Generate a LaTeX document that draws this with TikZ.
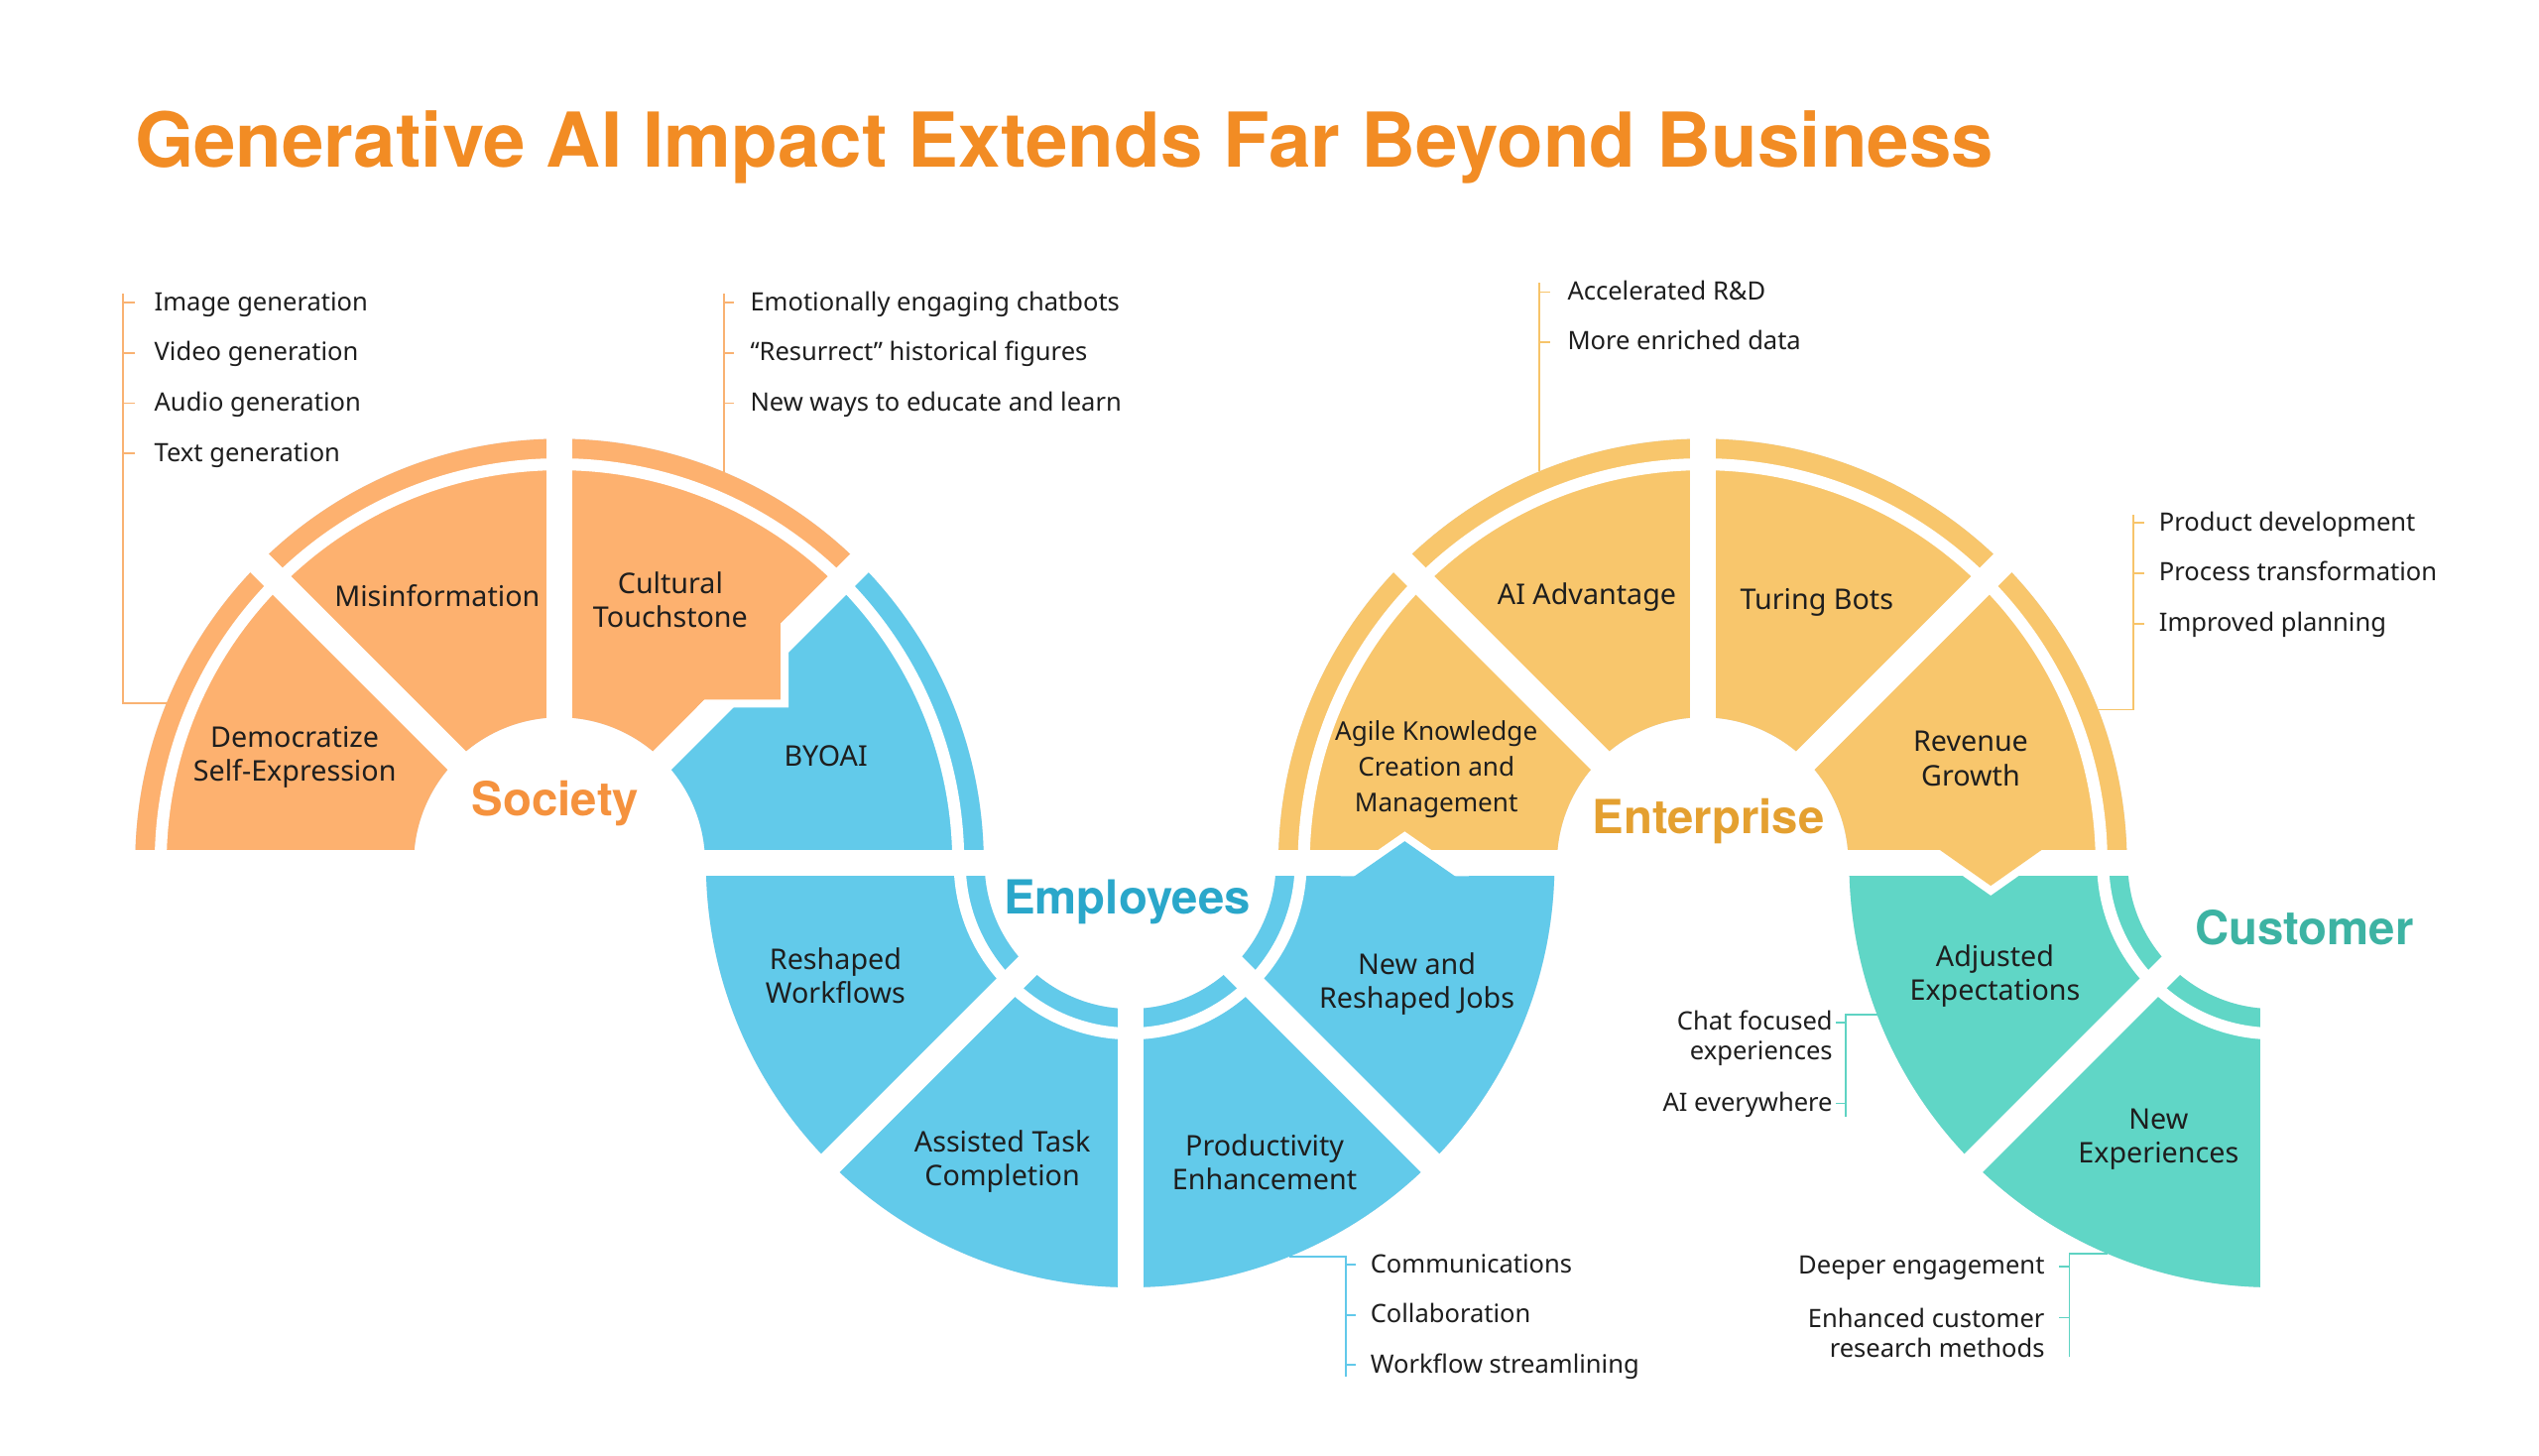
\documentclass[tikz,border=0pt]{standalone}
\usepackage{fontspec}
\setmainfont{Noto Sans}
\newfontfamily\headfont{TeX Gyre Heros}
\usepackage{xcolor}
\usepackage{tikz}
\usetikzlibrary{calc}

\definecolor{titlecol}{HTML}{F28C24}
\definecolor{socfill}{HTML}{FDB16F}
\definecolor{soctext}{HTML}{F5923E}
\definecolor{socline}{HTML}{F9B272}
\definecolor{empfill}{HTML}{62CAEA}
\definecolor{emptext}{HTML}{2AA7CA}
\definecolor{empline}{HTML}{62C9EA}
\definecolor{entfill}{HTML}{F8C66C}
\definecolor{enttext}{HTML}{E4A030}
\definecolor{entline}{HTML}{F7C46A}
\definecolor{cusfill}{HTML}{60D6C6}
\definecolor{custext}{HTML}{3DB3A3}
\definecolor{cusline}{HTML}{5FD3C3}
\definecolor{ink}{HTML}{1E1E1E}
\definecolor{ringshadow}{HTML}{DADFEA}

\newcommand{\ringpart}[6]{%
  \fill[#1] ($(#2)+(#3:#5)$) arc[start angle=#3,end angle=#4,radius=#5]
    -- ($(#2)+(#4:#6)$) arc[start angle=#4,end angle=#3,radius=#6] -- cycle;}

\tikzset{
  gapline/.style={white,line width=0.32cm},
  bandgap/.style={white,line width=0.148cm},
  seclabel/.style={font=\fontsize{10}{11.9}\selectfont,text=ink,align=center,inner sep=0pt},
  ringlabel/.style={font=\headfont\bfseries\fontsize{16.5}{19}\selectfont,inner sep=0pt},
  item/.style={font=\fontsize{8.9}{10.5}\selectfont,text=ink,inner sep=0pt,text height=7pt,text depth=1.5pt},
  item2/.style={font=\fontsize{8.9}{10.5}\selectfont,text=ink,inner sep=0pt,align=right},
  bracketline/.style={line width=0.65pt},
}

\begin{document}
\begin{tikzpicture}[x=0.02cm,y=-0.02cm]
  \useasboundingbox (0,0) rectangle (1568,899);
  \fill[white] (0,0) rectangle (1568,899);

  \node[anchor=west,inner sep=0pt,text=titlecol,font=\headfont\bfseries\fontsize{26.6}{30}\selectfont] (title) at (83,91) {Generative AI Impact Extends Far Beyond Business};

  \coordinate (soc) at (345.5,533);
  \coordinate (emp) at (698,533);
  \coordinate (ent) at (1051.5,533);
  \coordinate (cus) at (1404,533);

  \foreach \c/\a/\b in {soc/180/360,emp/0/180,ent/180/360,cus/90/180}
    \ringpart{ringshadow,shift={(2,4)}}{\c}{\a}{\b}{90}{262};

  \foreach \a/\b/\f in {180/225/socfill,225/270/socfill,270/315/socfill,315/360/empfill}
    \ringpart{\f}{soc}{\a}{\b}{90}{262};
  \ringpart{empfill}{emp}{0}{180}{90}{262};
  \ringpart{entfill}{ent}{180}{360}{90}{262};
  \ringpart{cusfill}{cus}{90}{180}{90}{262};

  \foreach \c/\a in {soc/225,soc/270,soc/315,emp/45,emp/90,emp/135,ent/225,ent/270,ent/315,cus/90,cus/135}
    \draw[gapline] ($(\c)+(\a:80)$) -- ($(\c)+(\a:275)$);
  \foreach \c/\a/\b/\r in {soc/180/360/246.3,ent/180/360/246.3,emp/0/180/105.3,cus/90/180/105.3}
    \draw[bandgap] ($(\c)+(\a:\r)$) arc[start angle=\a,end angle=\b,radius=\r];
  \draw[gapline] (70,533) -- (1425,533);

  \fill[white] (430.2,437) -- (487,437) -- (487,380.2) -- cycle;
  \fill[socfill] (432,432) -- (482,432) -- (482,382) -- cycle;
  \fill[white] (827.9,541) -- (867.5,513.5) -- (907.1,541) -- cycle;
  \fill[empfill] (833.7,543) -- (867.5,519.5) -- (901.3,543) -- cycle;
  \fill[white] (1189.6,525) -- (1229.4,553) -- (1269.2,525) -- cycle;
  \fill[entfill] (1195.3,523) -- (1229.4,547) -- (1263.5,523) -- cycle;

  \node[seclabel] (demo) at (182,467.5) {Democratize\\Self-Expression};
  \node[seclabel] (misinfo) at (270,368) {Misinformation};
  \node[seclabel] (cultural) at (414,370.5) {Cultural\\Touchstone};
  \node[seclabel] (byoai) at (510,467) {BYOAI};
  \node[seclabel] (reshaped) at (516,602.5) {Reshaped\\Workflows};
  \node[seclabel] (assisted) at (619,717.5) {Assisted Task\\Completion};
  \node[seclabel] (product) at (781,717.5) {Productivity\\Enhancement};
  \node[seclabel] (newjobs) at (875,607.5) {New and\\Reshaped Jobs};
  \node[seclabel,font=\fontsize{9.1}{12.5}\selectfont] (agile) at (887,475) {Agile Knowledge\\Creation and\\Management};
  \node[seclabel] (aiadv) at (980,369) {AI Advantage};
  \node[seclabel] (turing) at (1122,372) {Turing Bots};
  \node[seclabel] (revenue) at (1217,468.5) {Revenue\\Growth};
  \node[seclabel] (adjusted) at (1232,602.5) {Adjusted\\Expectations};
  \node[seclabel] (newexp) at (1333,703.5) {New\\Experiences};

  \node[ringlabel,text=soctext] (society) at (343,496) {Society};
  \node[ringlabel,text=emptext] (employees) at (696,557) {Employees};
  \node[ringlabel,text=enttext] (enterprise) at (1055,507) {Enterprise};
  \node[ringlabel,text=custext] (customer) at (1423,573) {Customer};

  \coordinate (socleft) at ($(soc)+(202.2:262)$);
  \coordinate (socbar) at (76,181.5);
  \draw[bracketline,socline] (socleft) -| (socbar);
  \foreach \t [count=\i] in {Image generation,Video generation,Audio generation,Text generation}{
    \node[item,anchor=west] (socA\i) at (95,156+31*\i) {\t};
    \draw[bracketline,socline] (socA\i.west -| socbar) -- ++(7,0);
  }

  \coordinate (soctop) at ($(soc)+(292.8:262)$);
  \draw[bracketline,socline] (soctop) -- (soctop |- 0,181.5);
  \foreach \t [count=\i] in {Emotionally engaging chatbots,``Resurrect'' historical figures,New ways to educate and learn}{
    \node[item,anchor=west] (socB\i) at (463,156+31*\i) {\t};
    \draw[bracketline,socline] (socB\i.west -| soctop) -- ++(6.5,0);
  }

  \coordinate (enttop) at ($(ent)+(247.4:262)$);
  \draw[bracketline,entline] (enttop) -- (enttop |- 0,174.7);
  \foreach \t [count=\i] in {Accelerated R\&D,More enriched data}{
    \node[item,anchor=west] (entA\i) at (967.7,149.6+30.8*\i) {\t};
    \draw[bracketline,entline] (entA\i.west -| enttop) -- ++(6.5,0);
  }

  \coordinate (entright) at ($(ent)+(338.8:262)$);
  \coordinate (entbar) at (1317.5,317.9);
  \draw[bracketline,entline] (entright) -| (entbar);
  \foreach \t [count=\i] in {Product development,Process transformation,Improved planning}{
    \node[item,anchor=west] (entB\i) at (1333,292+31*\i) {\t};
    \draw[bracketline,entline] (entB\i.west -| entbar) -- ++(6.5,0);
  }

  \coordinate (empfoot) at ($(emp)+(68:262)$);
  \coordinate (empbar) at (831,850);
  \draw[bracketline,empline] (empfoot) -| (empbar);
  \foreach \t [count=\i] in {Communications,Collaboration,Workflow streamlining}{
    \node[item,anchor=west] (empA\i) at (846,750+31*\i) {\t};
    \draw[bracketline,empline] (empA\i.west -| empbar) -- ++(6.5,0);
  }

  \coordinate (cusleft) at ($(cus)+(159.1:262)$);
  \coordinate (cusbar) at (1140,689.5);
  \draw[bracketline,cusline] (cusleft) -| (cusbar);
  \node[item2,anchor=east] (cusA1) at (1132,641) {Chat focused\\experiences};
  \node[item,anchor=east] (cusA2) at (1132,681.4) {AI everywhere};
  \draw[bracketline,cusline] (cusbar |- 0,631.5) -- ++(-6.5,0);
  \draw[bracketline,cusline] (cusA2.east -| cusbar) -- ++(-6.5,0);

  \coordinate (cusfoot) at ($(cus)+(113:262)$);
  \coordinate (cusbar2) at (1278,837.8);
  \draw[bracketline,cusline] (cusfoot) -| (cusbar2);
  \node[item,anchor=east] (cusB1) at (1263,782) {Deeper engagement};
  \node[item2,anchor=east] (cusB2) at (1263,823) {Enhanced customer\\research methods};
  \draw[bracketline,cusline] (cusB1.east -| cusbar2) -- ++(-6.5,0);
  \draw[bracketline,cusline] (cusbar2 |- 0,813.7) -- ++(-6.5,0);
\end{tikzpicture}
\end{document}
